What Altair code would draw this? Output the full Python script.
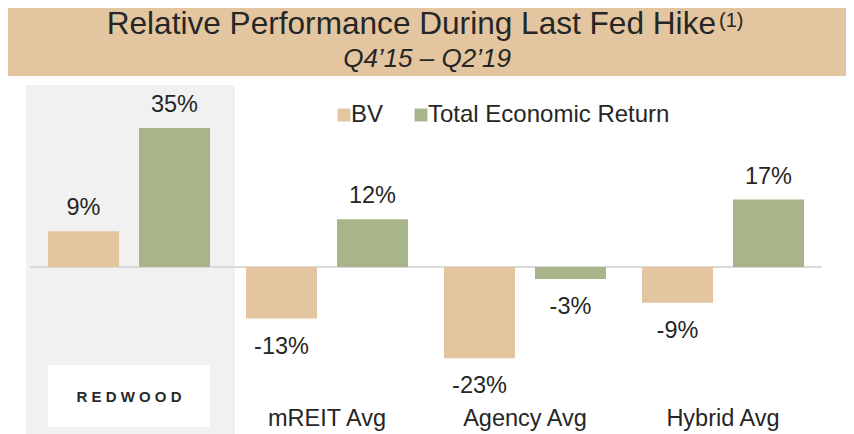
import altair as alt
import pandas as pd

categories = ["Redwood", "mREIT Avg", "Agency Avg", "Hybrid Avg"]
series = ["BV", "Total Economic Return"]
bv = [9, -13, -23, -9]
ter = [35, 12, -3, 17]
colors = ["#E3C69F", "#A8B58A"]

title_main = "Relative Performance During Last Fed Hike"
title_sup = "(1)"
subtitle = "Q4\u201915 \u2013 Q2\u201919"
logo_text = "R E D W O O D"

rows = []
for c, b, t in zip(categories, bv, ter):
    rows.append({"category": c, "series": series[0], "value": b, "label": f"{b}%"})
    rows.append({"category": c, "series": series[1], "value": t, "label": f"{t}%"})
df = pd.DataFrame(rows)

W, H = 838, 426
FONT = "Liberation Sans"
TXT = "#262626"
K = 3.97
ZERO_Y = 259

x_enc = alt.X("category:N", sort=categories,
              scale=alt.Scale(domain=categories, range=[22, 814],
                              paddingInner=0.182, paddingOuter=0.091),
              axis=None)
xo_enc = alt.XOffset("series:N", sort=series,
                     scale=alt.Scale(domain=series, paddingInner=0.22, paddingOuter=0))
y_scale = alt.Scale(domain=[-(H - ZERO_Y) / K, ZERO_Y / K], nice=False, zero=False)
y_enc = alt.Y("value:Q", scale=y_scale, axis=None)

one = pd.DataFrame({"k": [0]})

band = alt.Chart(one).mark_rect(color="#E3C69F").encode(
    x=alt.value(0), x2=alt.value(W), y=alt.value(0), y2=alt.value(68))
panel = alt.Chart(one).mark_rect(color="#F1F1F1").encode(
    x=alt.value(18), x2=alt.value(227), y=alt.value(77), y2=alt.value(H))
zero = alt.Chart(one).mark_rule(color="#D9D9D9", strokeWidth=2).encode(
    y=alt.Y(datum=0, scale=y_scale, axis=None), x=alt.value(22), x2=alt.value(814))

base = alt.Chart(df)
bars = base.mark_bar().encode(
    x=x_enc, xOffset=xo_enc, y=y_enc, y2=alt.datum(0),
    color=alt.Color("series:N", sort=series,
                    scale=alt.Scale(domain=series, range=colors),
                    legend=alt.Legend(title=None, orient="none", legendX=324, legendY=95,
                                      padding=0, direction="horizontal", symbolType="square",
                                      symbolSize=165, symbolStrokeWidth=0,
                                      labelFont=FONT, labelFontSize=24, labelColor=TXT,
                                      labelLimit=400, labelOffset={"expr": "-5"},
                                      columnPadding=25)))

pos_lab = base.transform_filter("datum.value >= 0").mark_text(
    font=FONT, fontSize=23.5, color=TXT, baseline="alphabetic", dy=-16).encode(
    x=x_enc, xOffset=xo_enc, y=y_enc, text="label:N")
neg_lab = base.transform_filter("datum.value < 0").mark_text(
    font=FONT, fontSize=23.5, color=TXT, baseline="alphabetic", dy=35).encode(
    x=x_enc, xOffset=xo_enc, y=y_enc, text="label:N")

cat_df = pd.DataFrame({"category": categories})
cat_lab = alt.Chart(cat_df).transform_filter("datum.category != 'Redwood'").mark_text(
    font=FONT, fontSize=23.5, color=TXT, baseline="alphabetic").encode(
    x=x_enc, y=alt.value(418), text="category:N")

logo_box = alt.Chart(cat_df).transform_filter("datum.category == 'Redwood'").mark_rect(
    color="white").encode(x=x_enc, y=alt.value(357), y2=alt.value(419))
logo = alt.Chart(cat_df).transform_filter("datum.category == 'Redwood'").mark_text(
    font=FONT, fontSize=15, fontWeight="bold", color="#2a2a2a", baseline="middle").encode(
    x=x_enc, y=alt.value(389), text=alt.value(logo_text))

t1 = alt.Chart(one).mark_text(font=FONT, fontSize=31.6, color=TXT, align="right",
                              baseline="alphabetic").encode(
    x=alt.value(708), y=alt.value(26), text=alt.value(title_main))
t2 = alt.Chart(one).mark_text(font=FONT, fontSize=20, color=TXT, align="left",
                              baseline="alphabetic").encode(
    x=alt.value(711), y=alt.value(18.5), text=alt.value(title_sup))
t3 = alt.Chart(one).mark_text(font=FONT, fontSize=26, fontStyle="italic", color=TXT,
                              align="center", baseline="alphabetic").encode(
    x=alt.value(419), y=alt.value(59), text=alt.value(subtitle))

chart = alt.layer(band, panel, zero, bars, pos_lab, neg_lab, cat_lab, logo_box, logo,
                  t1, t2, t3).properties(
    width=W, height=H, autosize="none", padding=0, background="white"
).configure_view(stroke=None)

chart.save("out.html", embed_options={"renderer": "svg", "actions": False})
